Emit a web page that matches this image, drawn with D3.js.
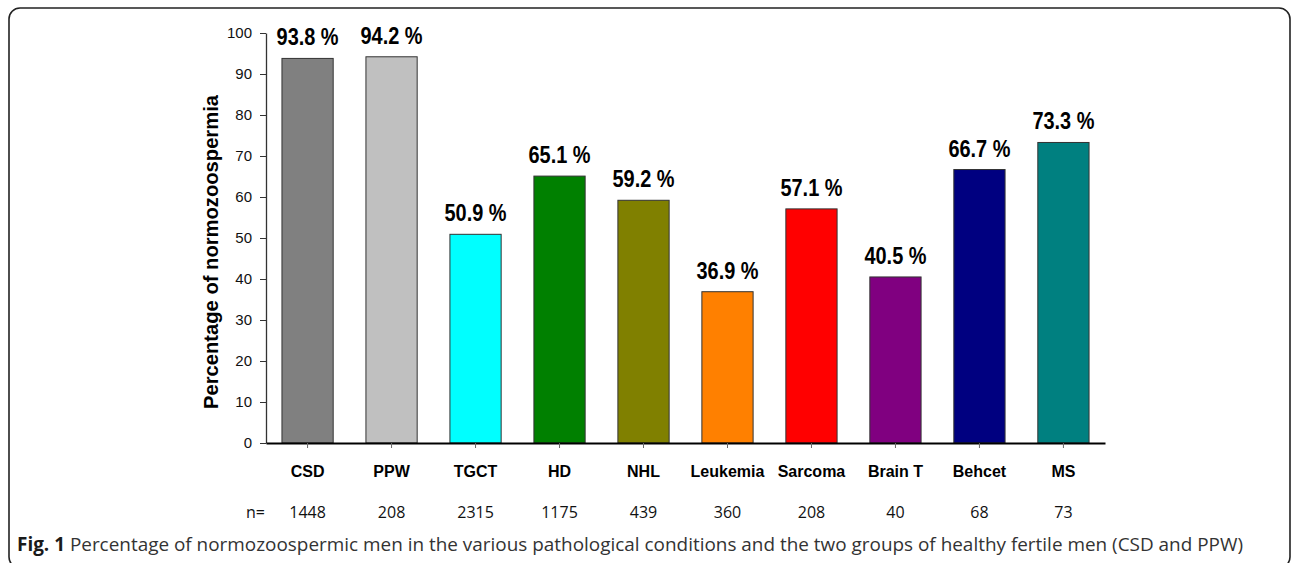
<!DOCTYPE html>
<html>
<head>
<meta charset="utf-8">
<script src="https://cdn.jsdelivr.net/npm/d3@7"></script>
<style>
  html, body { margin: 0; padding: 0; background: #fff; }
  svg { display: block; }
</style>
</head>
<body>
<div id="chart"></div>
<script>
// data
const categories = ['CSD', 'PPW', 'TGCT', 'HD', 'NHL', 'Leukemia', 'Sarcoma', 'Brain T', 'Behcet', 'MS'];
const percentages = [93.8, 94.2, 50.9, 65.1, 59.2, 36.9, 57.1, 40.5, 66.7, 73.3];
const sampleSizes = [1448, 208, 2315, 1175, 439, 360, 208, 40, 68, 73];
const barColors = ['#808080', '#c0c0c0', '#00ffff', '#008000', '#808000', '#ff8000', '#ff0000', '#800080', '#000080', '#008080'];
const yTicks = [0, 10, 20, 30, 40, 50, 60, 70, 80, 90, 100];

function drawChart() {
    const width = 1292, height = 563;
    const plot = { left: 266, right: 1105, top: 33, bottom: 443 };

    const svg = d3.select('#chart')
        .append('svg')
        .attr('width', width)
        .attr('height', height);

    // rounded figure frame
    svg.append('rect')
        .attr('x', 9).attr('y', 8)
        .attr('width', 1281).attr('height', 560)
        .attr('rx', 11)
        .attr('fill', 'none')
        .attr('stroke', '#222')
        .attr('stroke-width', 1.6);

    const x = d3.scaleBand()
        .domain(categories)
        .range([plot.left, plot.right])
        .paddingInner(0.39)
        .paddingOuter(0.19);

    const y = d3.scaleLinear()
        .domain([0, 100])
        .range([plot.bottom, plot.top]);

    // y axis
    const yAxis = svg.append('g')
        .attr('transform', `translate(${plot.left},0)`)
        .call(d3.axisLeft(y).tickValues(yTicks).tickSize(6).tickPadding(8).tickSizeOuter(0));
    yAxis.select('.domain').attr('stroke', '#333').attr('stroke-width', 1.3);
    yAxis.selectAll('.tick line').attr('stroke', '#333');
    yAxis.selectAll('.tick text')
        .attr('font-family', 'Liberation Sans, Arial, sans-serif')
        .attr('font-size', 15)
        .attr('fill', '#111');

    // bars
    svg.selectAll('.bar')
        .data(categories)
        .enter().append('rect')
        .attr('class', 'bar')
        .attr('x', d => x(d))
        .attr('y', (d, i) => y(percentages[i]))
        .attr('width', x.bandwidth())
        .attr('height', (d, i) => y(0) - y(percentages[i]))
        .attr('fill', (d, i) => barColors[i])
        .attr('stroke', '#333')
        .attr('stroke-width', 1);

    // x axis (baseline + ticks below at centres)
    const xAxis = svg.append('g')
        .attr('transform', `translate(0,${plot.bottom})`)
        .call(d3.axisBottom(x).tickSize(5).tickSizeOuter(0).tickFormat(''));
    xAxis.select('.domain').attr('stroke', '#000').attr('stroke-width', 2.2);
    xAxis.selectAll('.tick line').attr('stroke', '#666');

    // value labels
    svg.selectAll('.val')
        .data(categories)
        .enter().append('text')
        .attr('class', 'val')
        .attr('x', d => x(d) + x.bandwidth() / 2)
        .attr('y', (d, i) => y(percentages[i]) - 13)
        .attr('text-anchor', 'middle')
        .attr('font-family', 'Liberation Sans, Arial, sans-serif')
        .attr('font-weight', 'bold')
        .attr('font-size', 23)
        .attr('textLength', 62)
        .attr('lengthAdjust', 'spacingAndGlyphs')
        .attr('fill', '#000')
        .text((d, i) => `${percentages[i].toFixed(1)} %`);

    // category labels
    svg.selectAll('.cat')
        .data(categories)
        .enter().append('text')
        .attr('class', 'cat')
        .attr('x', d => x(d) + x.bandwidth() / 2)
        .attr('y', 477)
        .attr('text-anchor', 'middle')
        .attr('font-family', 'Liberation Sans, Arial, sans-serif')
        .attr('font-weight', 'bold')
        .attr('font-size', 16)
        .attr('fill', '#000')
        .text(d => d);

    // n= row
    svg.append('text')
        .attr('x', 246).attr('y', 518)
        .attr('font-family', 'Open Sans, sans-serif')
        .attr('font-size', 16)
        .attr('fill', '#111')
        .text('n=');
    svg.selectAll('.n')
        .data(categories)
        .enter().append('text')
        .attr('class', 'n')
        .attr('x', d => x(d) + x.bandwidth() / 2)
        .attr('y', 518)
        .attr('text-anchor', 'middle')
        .attr('font-family', 'Open Sans, sans-serif')
        .attr('font-size', 16)
        .attr('fill', '#111')
        .text((d, i) => sampleSizes[i]);

    // y axis title
    svg.append('text')
        .attr('transform', 'translate(218,252) rotate(-90)')
        .attr('text-anchor', 'middle')
        .attr('font-family', 'Liberation Sans, Arial, sans-serif')
        .attr('font-weight', 'bold')
        .attr('font-size', 21)
        .attr('textLength', 314)
        .attr('lengthAdjust', 'spacingAndGlyphs')
        .attr('fill', '#000')
        .text('Percentage of normozoospermia');

    // caption
    const cap = svg.append('text')
        .attr('x', 17).attr('y', 551)
        .attr('font-family', 'Open Sans, sans-serif')
        .attr('font-size', 19)
        .attr('textLength', 1226)
        .attr('lengthAdjust', 'spacingAndGlyphs')
        .attr('fill', '#333');
    cap.append('tspan').attr('font-weight', 'bold').attr('fill', '#1a1a1a').text('Fig. 1');
    cap.append('tspan').text(' Percentage of normozoospermic men in the various pathological conditions and the two groups of healthy fertile men (CSD and PPW)');
}

drawChart();
</script>
</body>
</html>
